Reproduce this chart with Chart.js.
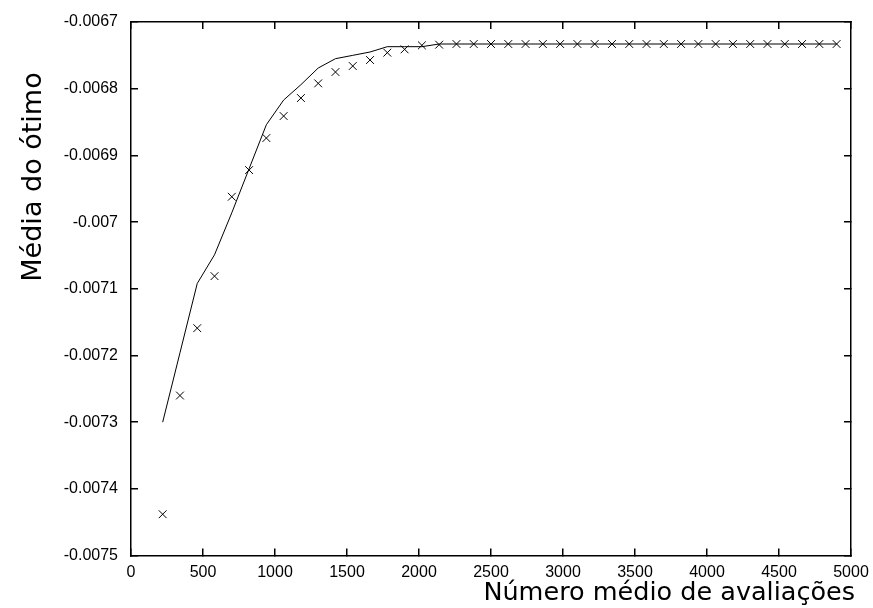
<!DOCTYPE html>
<html>
<head>
<meta charset="utf-8">
<script src="https://cdn.jsdelivr.net/npm/chart.js@4/dist/chart.umd.min.js"></script>
<style>
  html, body { margin: 0; padding: 0; background: #fff; }
  canvas { display: block; }
</style>
</head>
<body>
<canvas id="c" width="873" height="608"></canvas>
<script>
// ---- data ----
const xValues = [220, 340, 460, 580, 700, 820, 940, 1060, 1180, 1300,
                 1420, 1540, 1660, 1780, 1900, 2020, 2140, 2260, 2380, 2500,
                 2620, 2740, 2860, 2980, 3100, 3220, 3340, 3460, 3580, 3700,
                 3820, 3940, 4060, 4180, 4300, 4420, 4540, 4660, 4780, 4900];

const lineValues = [-0.007300, -0.007196, -0.007092, -0.007049, -0.006986,
                    -0.006920, -0.006854, -0.006817, -0.006794, -0.006769,
                    -0.006755, -0.006750, -0.006745, -0.006737, -0.006737,
                    -0.006737, -0.006733, -0.006733, -0.006733, -0.006733,
                    -0.006733, -0.006733, -0.006733, -0.006733, -0.006733,
                    -0.006733, -0.006733, -0.006733, -0.006733, -0.006733,
                    -0.006733, -0.006733, -0.006733, -0.006733, -0.006733,
                    -0.006733, -0.006733, -0.006733, -0.006733, -0.006733];

const pointValues = [-0.007438, -0.007260, -0.007159, -0.007081, -0.006962,
                     -0.006922, -0.006874, -0.006841, -0.006814, -0.006792,
                     -0.006775, -0.006766, -0.006757, -0.006746, -0.006741,
                     -0.006735, -0.006734, -0.006733, -0.006733, -0.006733,
                     -0.006733, -0.006733, -0.006733, -0.006733, -0.006733,
                     -0.006733, -0.006733, -0.006733, -0.006733, -0.006733,
                     -0.006733, -0.006733, -0.006733, -0.006733, -0.006733,
                     -0.006733, -0.006733, -0.006733, -0.006733, -0.006733];

const xTicks = [0, 500, 1000, 1500, 2000, 2500, 3000, 3500, 4000, 4500, 5000];
const xTickLabels = ['0', '500', '1000', '1500', '2000', '2500', '3000', '3500', '4000', '4500', '5000'];
const yTicks = [-0.0075, -0.0074, -0.0073, -0.0072, -0.0071, -0.0070, -0.0069, -0.0068, -0.0067];
const yTickLabels = ['-0.0075', '-0.0074', '-0.0073', '-0.0072', '-0.0071', '-0.007', '-0.0069', '-0.0068', '-0.0067'];

const xTitle = 'Número médio de avaliações';
const yTitle = 'Média do ótimo';

// ---- chart ----
const lineData = xValues.map((x, i) => ({ x: x, y: lineValues[i] }));
const pointData = xValues.map((x, i) => ({ x: x, y: pointValues[i] }));

const tickFont = { family: '"Liberation Sans", Arial, sans-serif', size: 16 };
const gridOpts = { drawOnChartArea: false, drawTicks: true, tickLength: -7, color: '#000', lineWidth: 1.5 };
const borderOpts = { display: true, color: '#000', width: 1.5 };

function noPad(s) { s.paddingTop = 0; s.paddingBottom = 0; s.paddingLeft = 0; s.paddingRight = 0; }

const titlesPlugin = {
  id: 'axisTitles',
  afterDraw(chart) {
    const ctx = chart.ctx;
    ctx.save();
    ctx.fillStyle = '#000';
    ctx.font = '25.5px "DejaVu Sans", sans-serif';
    ctx.textAlign = 'right';
    ctx.textBaseline = 'alphabetic';
    ctx.fillText(xTitle, 855, 600);
    ctx.font = '27px "DejaVu Sans", sans-serif';
    ctx.translate(41, 177);
    ctx.rotate(-Math.PI / 2);
    ctx.textAlign = 'center';
    ctx.fillText(yTitle, 0, 0);
    ctx.restore();
  }
};

new Chart(document.getElementById('c'), {
  type: 'scatter',
  data: {
    datasets: [
      {
        data: lineData,
        showLine: true,
        borderColor: '#000',
        borderWidth: 1,
        pointRadius: 0,
        fill: false,
        tension: 0
      },
      {
        data: pointData,
        showLine: false,
        pointStyle: 'crossRot',
        pointRadius: 5.5,
        pointBorderWidth: 1,
        borderColor: '#000',
        backgroundColor: '#000'
      }
    ]
  },
  options: {
    responsive: false,
    animation: false,
    events: [],
    layout: { padding: { left: 0, right: 22, top: 22, bottom: 0 } },
    plugins: { legend: { display: false }, tooltip: { enabled: false } },
    scales: {
      x: {
        type: 'linear', position: 'bottom', min: 0, max: 5000,
        afterBuildTicks: s => { s.ticks = xTicks.map(v => ({ value: v })); },
        afterFit: s => { s.height = 52.4; noPad(s); },
        ticks: { font: tickFont, color: '#000', padding: 14, maxRotation: 0, autoSkip: false,
                 callback: (v, i) => xTickLabels[i] },
        grid: gridOpts, border: borderOpts
      },
      x2: {
        type: 'linear', position: 'top', min: 0, max: 5000,
        afterBuildTicks: s => { s.ticks = xTicks.map(v => ({ value: v })); },
        afterFit: s => { s.height = 0; noPad(s); },
        ticks: { display: false },
        grid: gridOpts, border: borderOpts
      },
      y: {
        type: 'linear', position: 'left', min: -0.0075, max: -0.0067,
        afterBuildTicks: s => { s.ticks = yTicks.map(v => ({ value: v })); },
        afterFit: s => { s.width = 131; noPad(s); },
        ticks: { font: tickFont, color: '#000', padding: 20, autoSkip: false,
                 callback: (v, i) => yTickLabels[i] },
        grid: gridOpts, border: borderOpts
      },
      y2: {
        type: 'linear', position: 'right', min: -0.0075, max: -0.0067,
        afterBuildTicks: s => { s.ticks = yTicks.map(v => ({ value: v })); },
        afterFit: s => { s.width = 0; noPad(s); },
        ticks: { display: false },
        grid: gridOpts, border: borderOpts
      }
    }
  },
  plugins: [titlesPlugin]
});
</script>
</body>
</html>
